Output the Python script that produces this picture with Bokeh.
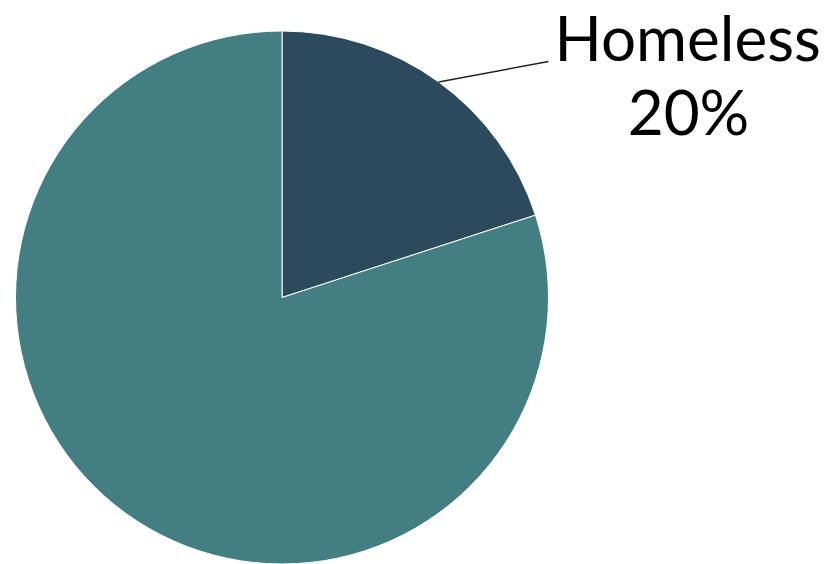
import math
from bokeh.plotting import figure
from bokeh.models import Range1d, ColumnDataSource
from bokeh.core.properties import value
from bokeh.embed import file_html
from bokeh.resources import INLINE

categories = ["Homeless", "Other"]
percents = [20, 80]
colors = ["#2c4a5e", "#437e83"]

W, H = 827, 564
cx, cy, r = 281.5, 267.0, 266.5

# angles: start at 90 deg (top), go clockwise
starts, ends = [], []
cum = 0.0
total = sum(percents)
for v in percents:
    a0 = math.pi / 2 - 2 * math.pi * cum / total
    cum += v
    a1 = math.pi / 2 - 2 * math.pi * cum / total
    starts.append(a1)
    ends.append(a0)

src = ColumnDataSource(dict(start=starts, end=ends, color=colors, cat=categories))

p = figure(width=W, height=H, output_backend="svg", toolbar_location=None,
           x_range=Range1d(0, W), y_range=Range1d(0, H), min_border=0)
p.axis.visible = False
p.grid.visible = False
p.outline_line_color = None
p.background_fill_color = "white"

p.wedge(x=cx, y=cy, radius=r, start_angle="start", end_angle="end",
        fill_color="color", line_color="white", line_width=1, source=src)

# label for Homeless slice
mid = (starts[0] + ends[0]) / 2
px, py = cx + r * math.cos(mid), cy + r * math.sin(mid)
lx, ly = 548, H - 61
p.line([px, lx], [py, ly], line_color="#222222", line_width=1.5)

font = value("Lato")
p.text(x=[554], y=[H - 36], text=[categories[0]], text_font=font,
       text_font_size="62px", text_align="left", text_baseline="alphabetic",
       text_color="black")
p.text(x=[688], y=[H - 110], text=[f"{percents[0]}%"], text_font=font,
       text_font_size="62px", text_align="center", text_baseline="alphabetic",
       text_color="black")

open("out.html", "w").write(file_html(p, INLINE))
